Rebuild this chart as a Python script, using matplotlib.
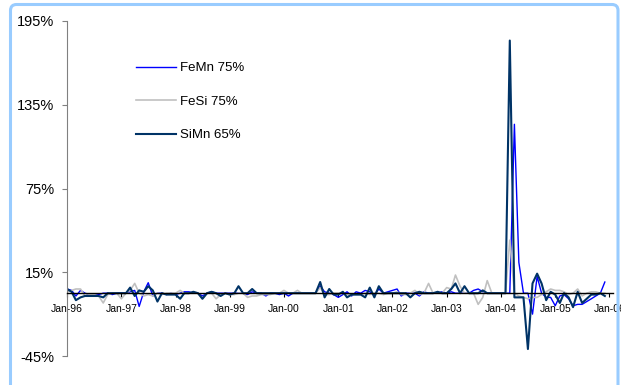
import matplotlib
matplotlib.use("Agg")
import matplotlib.pyplot as plt
import matplotlib.dates as mdates
from matplotlib.patches import FancyBboxPatch
from matplotlib.transforms import IdentityTransform
import pandas as pd

# monthly % change, Jan-96 .. Dec-05 (one row per year)
femn = [3, 2, -2, 2, 0, -1, -1, -1, 0, 0, -1, 0,
        0, 0, 1, 2, -9.5, 1, 7.5, -2, 0, 0, -1, 0,
        -1, 0, 1, 1, 0, 0, -2, 0, 1, 0, 0, 0,
        0, 0, 0, 0, -1, 1, 0, 0, -2, 0, 0, -1,
        0, -2, 0, 0, 0, 0, 0, 0, 5, 1, 0, -1,
        -3, -1, 1, -2, 1, 0, 2, 1, -1, 3, 0, 1,
        2, 3, -2, 0, 0, 0, -2, 1, 0, 0, 0, 1,
        0, 1, 0, 0, 0, 0, 2, 3, 1, 0, 0, 0,
        0, 0, 0, 121, 22, 0, 0, -15, 12, 0, -3, -3,
        -9, -2, -1, -4, -9, -8, -8, -6, -4, -2, 0, 8]

fesi = [1, 2, 3, 3, -2, -1, -1, -2, -7, -1, 0, 0,
        -4, 0, 2, 7, 0, -2, -1, -2, 0, -1, 0, 0,
        0, 2, 0, 0, 0, 0, -4, 0, 0, -4, -1, 0,
        -1, -1, 0, 0, -3, -2, -2, -1, -1, -1, 0, 0,
        2, 0, 0, 2, 0, 0, 0, 0, 4, -1, -1, 0,
        0, 0, -1, -1, -1, -1, 0, -1, 0, 0, -1, 0,
        0, 1, -1, -1, 0, 2, -1, 0, 7, 0, 0, 0,
        4, 3, 13, 5, 0, 0, 0, -8, -3, 9, 0, 0,
        0, 0, 38, 0, -2, -3, -4, -3, -3, -1, 1, 3,
        2, 2, 1, -1, 0, 3, -2, 0, 1, 1, 0, 0]

simn = [3, 1, -5, -3, -2, -2, -2, -2, -3, 0, 0, 0,
        0, 0, 4, -2, 2, 1, 5, 2, -6, 0, -1, -1,
        -1, -4, 0, 0, 1, 0, -4, 0, 1, 0, -2, 0,
        -1, 0, 5, 0, 0, 3, 0, 0, 0, 0, 0, 0,
        0, 0, 0, 0, 0, 0, 0, 0, 8, -3, 3, -1,
        -1, 1, -3, -1, -1, -1, -3, 4, -3, 5, 0, 0,
        0, 0, 0, 0, -3, 0, 1, 0, 0, 0, 1, 0,
        0, 3, 7, 0, 5, 0, 0, 0, 2, 0, 0, 0,
        0, 0, 181, -3, -3, -3, -40, 7, 14, 7, -5, 1,
        -1, -7, 0, -3, -10, 1, -7, -4, -1, -1, 0, -2]

months = pd.date_range("1996-01-01", periods=len(femn), freq="MS")
yticks = [-45, 15, 75, 135, 195]

plt.rcParams["font.family"] = ["Liberation Sans", "DejaVu Sans"]

fig = plt.figure(figsize=(6.21, 3.85), dpi=100)
ax = fig.add_axes([67 / 621, 29 / 385, 546 / 621, 335 / 385])

ax.plot(months, femn, color="#0000FF", lw=1.0, label="FeMn 75%")
ax.plot(months, fesi, color="#C0C0C0", lw=1.2, label="FeSi 75%")
ax.plot(months, simn, color="#003366", lw=1.5, label="SiMn 65%")

ax.set_ylim(-45, 195)
ax.set_yticks(yticks)
ax.set_yticklabels(["%d%%" % v for v in yticks], fontsize=10.5)
ax.set_xlim(pd.Timestamp("1996-01-01"), pd.Timestamp("2006-01-25"))
ax.xaxis.set_major_locator(mdates.YearLocator())
ax.xaxis.set_major_formatter(mdates.DateFormatter("%b-%y"))

for side in ("top", "right"):
    ax.spines[side].set_visible(False)
ax.spines["left"].set_color("#808080")
ax.spines["bottom"].set_position(("data", 0))
ax.spines["bottom"].set_color("black")
ax.spines["bottom"].set_linewidth(1.0)
ax.tick_params(axis="y", direction="out", length=3.6, width=0.8,
               color="#808080", pad=5.5)
ax.tick_params(axis="x", direction="out", length=3, width=0.8,
               labelsize=7.5, pad=5)

leg = ax.legend(loc="upper left", bbox_to_anchor=(136 / 621, 1 - 62 / 385),
                bbox_transform=fig.transFigure, frameon=False, fontsize=9.5,
                handlelength=3.0, handletextpad=0.35, labelspacing=1.62,
                borderpad=0, borderaxespad=0)

# light blue rounded frame around the chart
frame = FancyBboxPatch((10.5, -20), 607.5, 385 - 4.5 + 20,
                       boxstyle="round,pad=0,rounding_size=6",
                       transform=IdentityTransform(), fill=False,
                       ec="#99CCFF", lw=2.2)
fig.add_artist(frame)

fig.savefig("out.png", dpi=100)
